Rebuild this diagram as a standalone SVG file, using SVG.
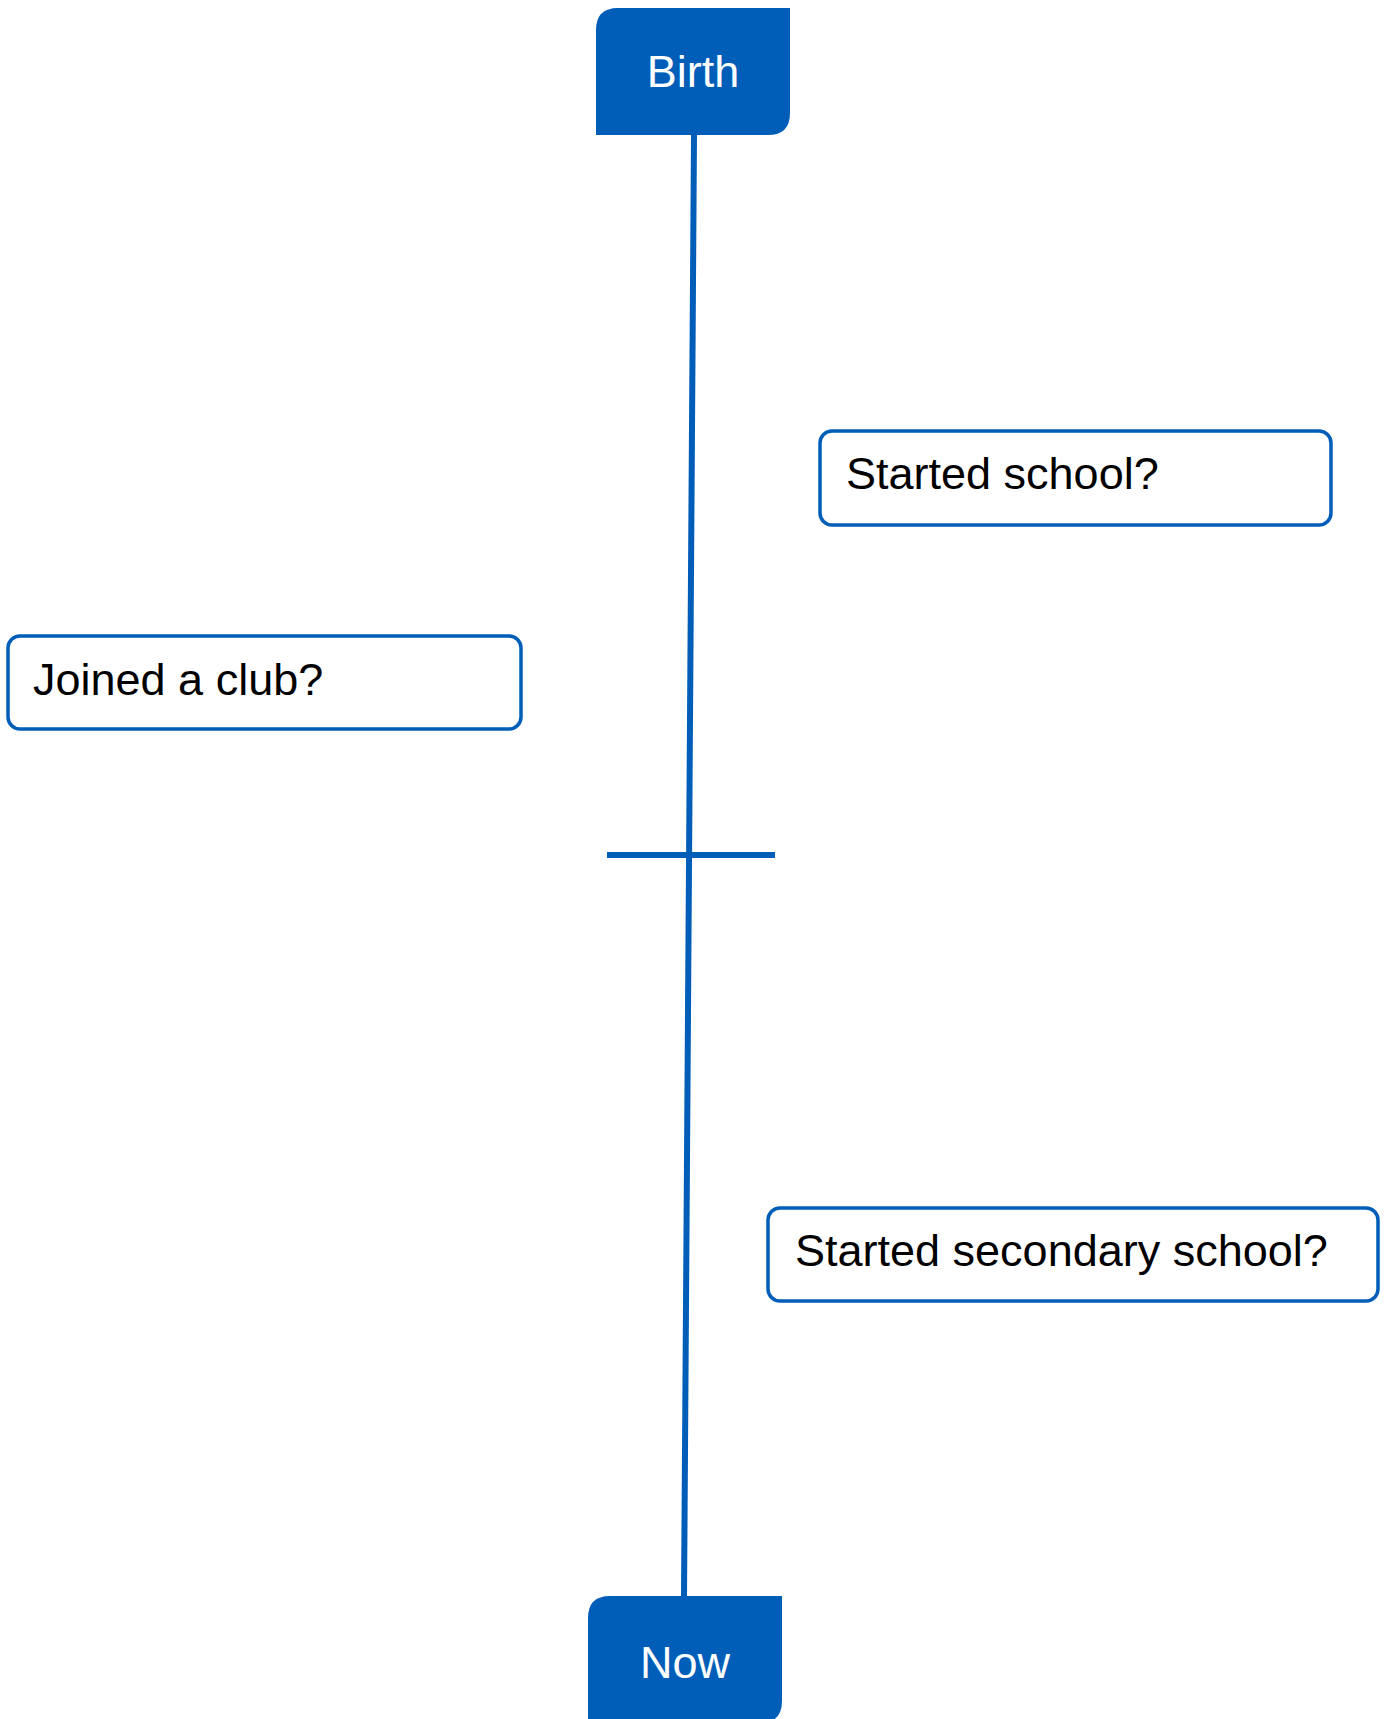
<svg xmlns="http://www.w3.org/2000/svg" width="1387" height="1719" viewBox="0 0 1387 1719">
<style>
.end{fill:#005EB8}
.endtxt{fill:#ffffff;font-family:"Liberation Sans",Arial,sans-serif;font-size:45px;text-anchor:middle}
.ev{fill:#ffffff;stroke:#005EB8;stroke-width:3.5}
.evtxt{fill:#000000;font-family:"Liberation Sans",Arial,sans-serif;font-size:45px}
.line{stroke:#005EB8;stroke-width:6;fill:none}
</style>
<rect width="1387" height="1719" fill="#ffffff"/>
<g id="connectors">
<line class="line" x1="694" y1="135" x2="684" y2="1597"/>
<line class="line" x1="607" y1="855" x2="775" y2="855" stroke-width="7"/>
</g>
<g id="birth">
<path class="end" d="M596,135 L596,30 Q596,8 618,8 L790,8 L790,113 Q790,135 768,135 Z"/>
<text class="endtxt" x="693" y="87">Birth</text>
</g>
<g id="now">
<path class="end" d="M588,1724 L588,1618 Q588,1596 610,1596 L782,1596 L782,1701 Q782,1723 760,1723 Z"/>
<text class="endtxt" x="685" y="1678">Now</text>
</g>
<g id="started-school">
<rect class="ev" x="820" y="431" width="511" height="94" rx="12"/>
<text class="evtxt" x="846" y="489">Started school?</text>
</g>
<g id="joined-club">
<rect class="ev" x="8" y="636" width="513" height="93" rx="12"/>
<text class="evtxt" x="33" y="695">Joined a club?</text>
</g>
<g id="secondary-school">
<rect class="ev" x="768" y="1208" width="610" height="93" rx="12"/>
<text class="evtxt" x="795" y="1266">Started secondary school?</text>
</g>
</svg>
